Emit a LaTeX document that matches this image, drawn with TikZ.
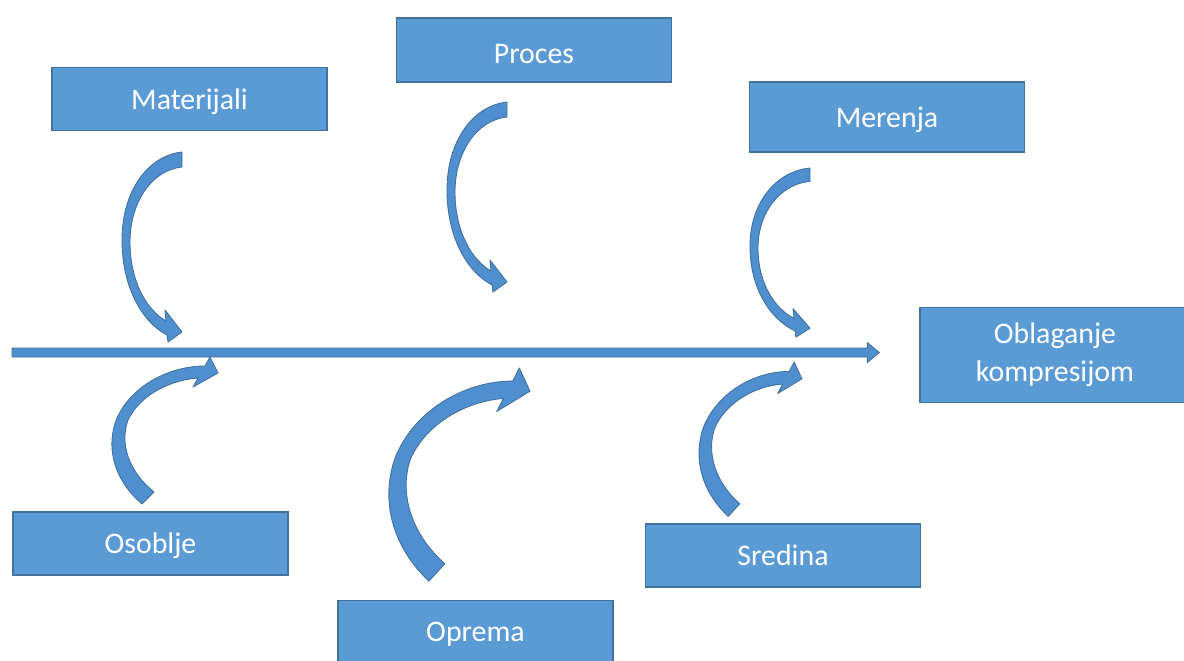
\documentclass[tikz,border=0pt]{standalone}
\usepackage{fontspec}
\setmainfont{Carlito}
\usetikzlibrary{calc}

\definecolor{boxblue}{RGB}{91,155,213}
\definecolor{boxedge}{RGB}{65,113,156}
\definecolor{arrowblue}{RGB}{80,143,207}

\tikzset{
  cause/.style={draw=boxedge, line width=0.8pt, fill=boxblue, text=white,
    minimum width=5.5cm, minimum height=1.26cm, inner sep=0pt, align=center,
    font=\fontsize{17}{21.6}\selectfont},
  oneline/.style={text depth=0pt},
  bandshape/.style={fill=arrowblue, draw=boxedge, line width=0.5pt, line join=round},
  % curved arrow that starts above the spine and bends down onto it
  pics/topbend/.style={code={
    \filldraw[bandshape] (0,0) .. controls (-35,4) and (-60,40) .. (-60,88)
      .. controls (-60,135) and (-40,170) .. (-15,183)
      -- (-14,190) -- (0,180) -- (-17,158) -- (-16,169)
      .. controls (-35,158) and (-52,130) .. (-52,90)
      .. controls (-52,50) and (-30,18) .. (0,15) -- cycle;
  }},
  % curved arrow that starts below the spine and bends up onto it
  pics/botbend/.style={code={
    \filldraw[bandshape] (27,147) .. controls (-3,121) and (-9,88) .. (2,61)
      .. controls (17,28) and (55,9) .. (90,9)
      -- (95,0) -- (103,16) -- (78,30) -- (83,21)
      .. controls (55,23) and (25,38) .. (13,63)
      .. controls (5,85) and (12,113) .. (39,135) -- cycle;
  }}
}

\begin{document}
\begin{tikzpicture}[x=0.02cm, y=-0.02cm]
\useasboundingbox (0,0) rectangle (1184,660);
\fill[white] (0,0) rectangle (1184,660);

% cause boxes and effect box
\node[cause, oneline] (mat) at (189.5,99) {Materijali};
\node[cause, text depth=0pt, text height=15.6pt, minimum height=1.28cm] (proc) at (534,50) {Proces};
\node[cause, oneline, minimum height=1.4cm] (mer) at (887,117) {Merenja};
\node[cause, minimum width=5.4cm, minimum height=1.9cm] (obl) at (1055,355) {Oblaganje\\kompresijom};
\node[cause, oneline] (oso) at (150.5,543.5) {Osoblje};
\node[cause, oneline] (opr) at (475.5,632) {Oprema};
\node[cause, oneline] (sre) at (783,555.5) {Sredina};

% main spine
\coordinate (axstart) at (12,352.5);
\coordinate (axend) at ($(axstart -| obl.west)+(-40,0)$);
\filldraw[bandshape] ($(axstart)+(0,-4.5)$) -- ($(axend)+(-12,-4.5)$)
  -- ($(axend)+(-12,-10)$) -- (axend) -- ($(axend)+(-12,10)$)
  -- ($(axend)+(-12,4.5)$) -- ($(axstart)+(0,4.5)$) -- cycle;

% curved arrows onto the spine
\pic at (182,152) {topbend};
\pic at (507,102) {topbend};
\pic[yscale=0.89] at (810,168) {topbend};
\pic at (115,357) {botbend};
\pic[xscale=1.33, yscale=1.45] at (393,368) {botbend};
\pic[xscale=0.97, yscale=1.05] at (702,362) {botbend};
\end{tikzpicture}
\end{document}
